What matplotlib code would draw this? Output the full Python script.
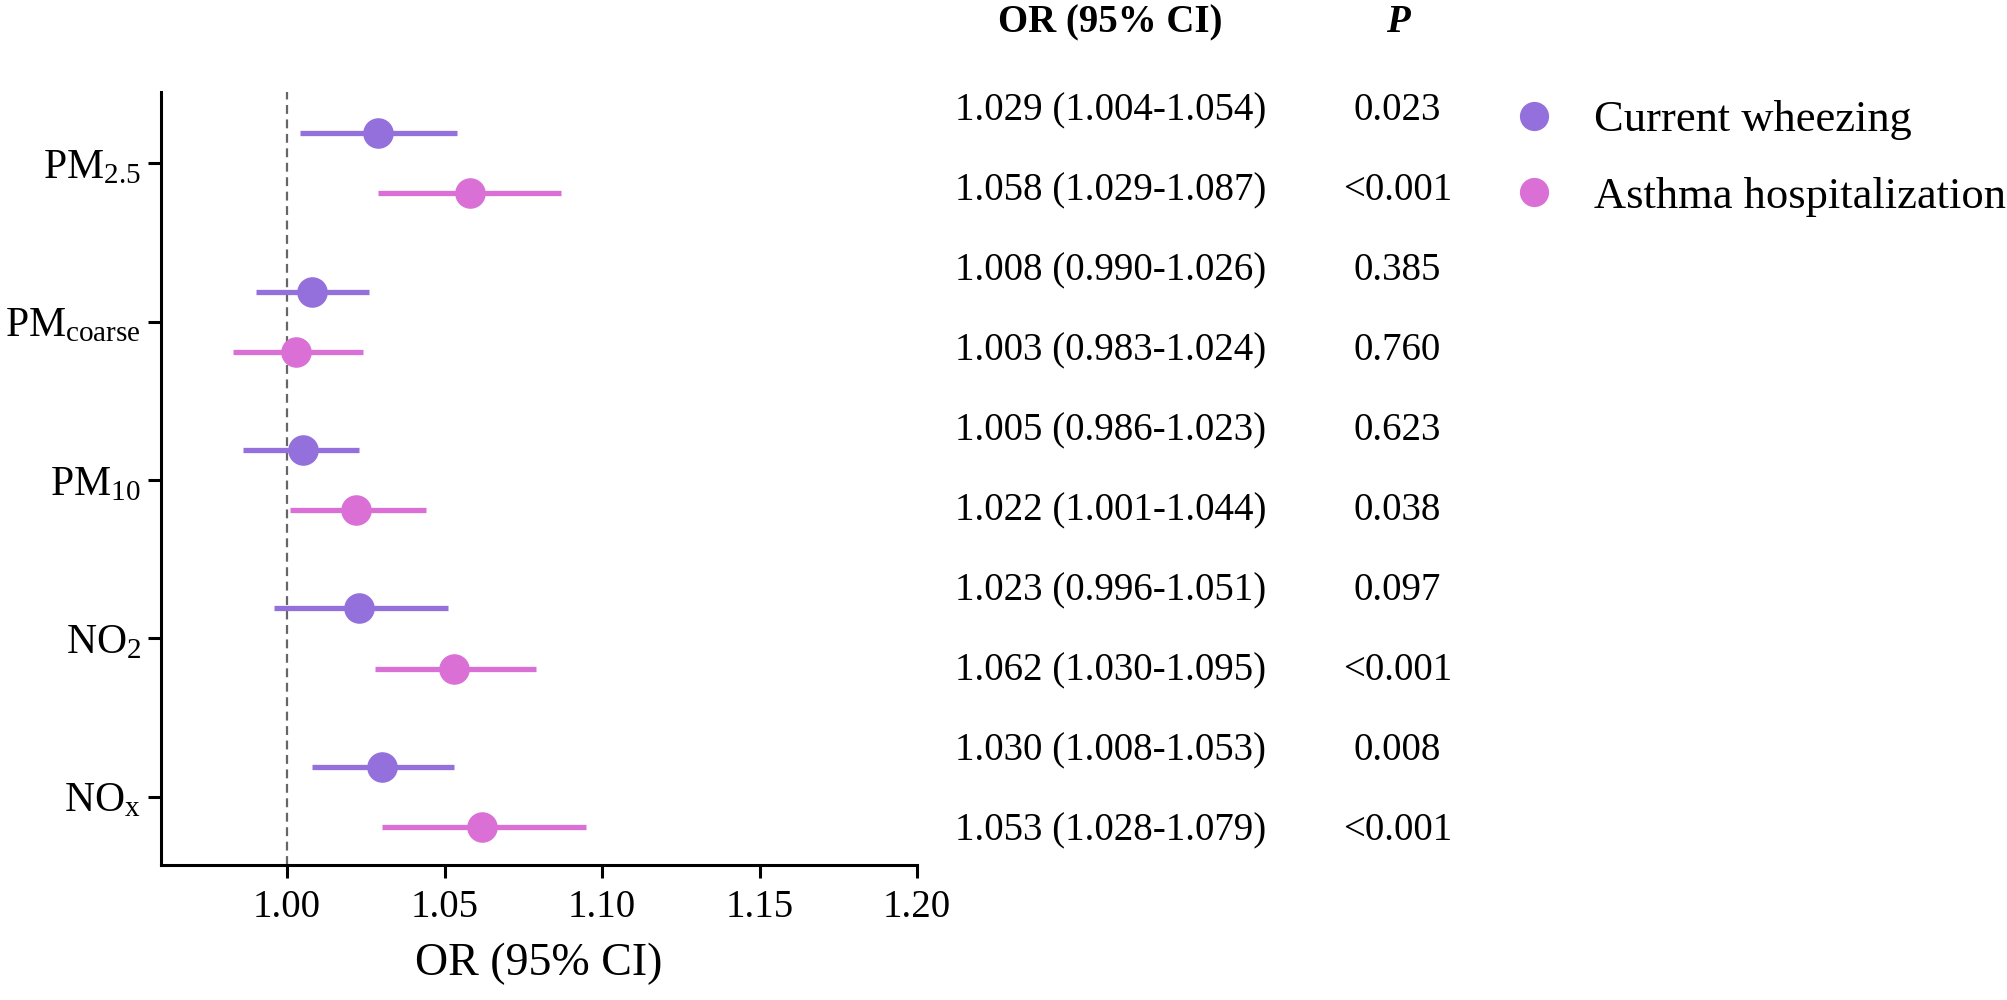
import matplotlib
matplotlib.use('Agg')
import matplotlib.pyplot as plt
from matplotlib.lines import Line2D
import numpy as np

plt.rcParams['font.family'] = ['Liberation Serif', 'DejaVu Serif']
plt.rcParams['mathtext.fontset'] = 'custom'
plt.rcParams['mathtext.rm'] = 'Liberation Serif'
plt.rcParams['mathtext.it'] = 'Liberation Serif:italic'

# data
pollutants = [r'PM$_{\mathrm{2.5}}$', r'PM$_{\mathrm{coarse}}$', r'PM$_{\mathrm{10}}$',
              r'NO$_{\mathrm{2}}$', r'NO$_{\mathrm{x}}$']

wheeze_or = [1.029, 1.008, 1.005, 1.023, 1.030]
wheeze_lo = [1.004, 0.990, 0.986, 0.996, 1.008]
wheeze_hi = [1.054, 1.026, 1.023, 1.051, 1.053]

# as drawn in the figure (NO2 / NOx asthma markers)
asthma_or = [1.058, 1.003, 1.022, 1.053, 1.062]
asthma_lo = [1.029, 0.983, 1.001, 1.028, 1.030]
asthma_hi = [1.087, 1.024, 1.044, 1.079, 1.095]

ci_text = ['1.029 (1.004-1.054)', '1.058 (1.029-1.087)',
           '1.008 (0.990-1.026)', '1.003 (0.983-1.024)',
           '1.005 (0.986-1.023)', '1.022 (1.001-1.044)',
           '1.023 (0.996-1.051)', '1.062 (1.030-1.095)',
           '1.030 (1.008-1.053)', '1.053 (1.028-1.079)']
p_text = ['0.023', '<0.001', '0.385', '0.760', '0.623',
          '0.038', '0.097', '<0.001', '0.008', '<0.001']

series_names = ['Current wheezing', 'Asthma hospitalization']
colors = ['#9370DB', '#DA70D6']

fig = plt.figure(figsize=(20.08, 10), dpi=100)
ax = fig.add_axes([0.0802, 0.135, 0.3765, 0.773])

y = np.arange(len(pollutants))
off = 0.19

for vals, lo, hi, dy, c in [(wheeze_or, wheeze_lo, wheeze_hi, -off, colors[0]),
                            (asthma_or, asthma_lo, asthma_hi, off, colors[1])]:
    vals = np.array(vals)
    err = [vals - np.array(lo), np.array(hi) - vals]
    ax.errorbar(vals, y + dy, xerr=err, fmt='o', color=c, ms=21,
                elinewidth=3.8, capsize=0, zorder=3)

ax.axvline(1.0, color='#666666', ls=(0, (4, 2.5)), lw=1.6, zorder=1)

ax.set_xlim(0.96, 1.20)
ax.set_ylim(4.43, -0.45)
ax.set_xticks([1.00, 1.05, 1.10, 1.15, 1.20])
ax.set_xticklabels(['1.00', '1.05', '1.10', '1.15', '1.20'])
ax.set_yticks(y)
ax.set_yticklabels(pollutants)
ax.set_xlabel('OR (95% CI)', fontsize=33, labelpad=12)

for s in ['top', 'right']:
    ax.spines[s].set_visible(False)
for s in ['left', 'bottom']:
    ax.spines[s].set_linewidth(2.2)
ax.tick_params(axis='both', direction='out', length=9.5, width=2.2, labelsize=28, pad=8)
ax.tick_params(axis='y', labelsize=30, pad=5)

# table on the right
x_ci = 0.553
x_p = 0.696
fig.text(x_ci, 0.977, 'OR (95% CI)', fontsize=28, fontweight='bold', ha='center', va='center')
fig.text(x_p, 0.977, 'P', fontsize=28, fontweight='bold', fontstyle='italic', ha='center', va='center')
for i, (t, p) in enumerate(zip(ci_text, p_text)):
    yy = 0.889 - i * 0.080
    fig.text(x_ci, yy, t, fontsize=28, ha='center', va='center')
    fig.text(x_p, yy, p, fontsize=28, ha='center', va='center')

handles = [Line2D([], [], ls='none', marker='o', ms=20, color=c) for c in colors]
fig.legend(handles, series_names, loc='upper left', bbox_to_anchor=(0.753, 0.900),
           frameon=False, fontsize=32, borderpad=0, borderaxespad=0,
           handlelength=1.0, handletextpad=0.85, labelspacing=0.82)

fig.savefig('out.png', dpi=100)
